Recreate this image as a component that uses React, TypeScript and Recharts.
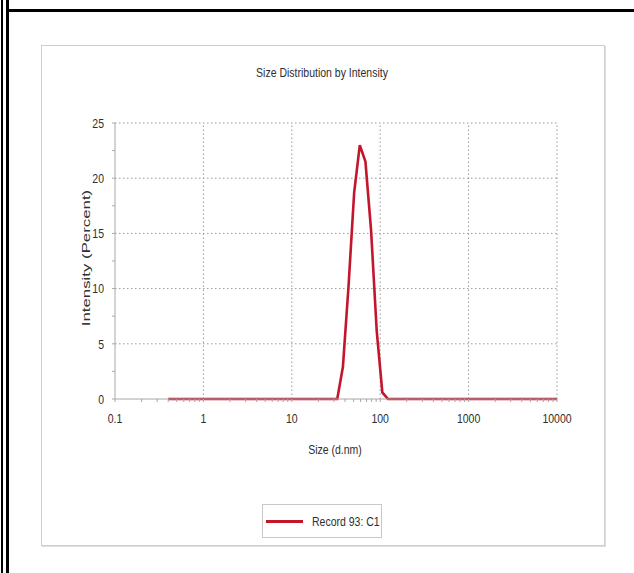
import React from "react";
import { LineChart, Line, XAxis, YAxis, ReferenceLine } from "recharts";

// size bins (d.nm) and intensity (%)
const sizes = [0.4, 32.67, 37.84, 43.82, 50.75, 58.77, 68.06, 78.82, 91.28, 105.7, 122.4, 10000];
const intensity = [0, 0, 2.9, 10.2, 18.7, 23.0, 21.5, 15.3, 6.2, 0.6, 0, 0];

const xMajor = [0.1, 1, 10, 100, 1000, 10000];
const xMinorSteps = [2, 3, 4, 5, 6, 7, 8, 9];
const yMajor = [0, 5, 10, 15, 20, 25];
const yMinor = [2.5, 7.5, 12.5, 17.5, 22.5];

const title = "Size Distribution by Intensity";
const xTitle = "Size (d.nm)";
const yTitle = "Intensity (Percent)";
const seriesName = "Record 93: C1";

const RED = "#c3162d";
const GRID = "#9a9a9a";
const AXIS = "#a8a8a8";
const TXT = "#2e2e2e";
const FONT = "'Liberation Sans', Arial, sans-serif";
const STRETCH = 1.3; // source image is a bit stretched vertically

const rows = sizes.map((s, i) => ({ size: s, value: intensity[i] }));

const xTicks = [
  ...xMajor,
  ...xMajor.slice(0, -1).flatMap((d) => xMinorSteps.map((m) => Number((d * m).toPrecision(3)))),
].sort((a, b) => a - b);
const yTicks = [...yMajor, ...yMinor].sort((a, b) => a - b);

const isDecade = (v: number) => Math.abs(Math.log10(v) - Math.round(Math.log10(v))) < 1e-9;

const XTick = ({ x, y, payload }: any) =>
  isDecade(payload.value) ? (
    <text
      transform={`translate(${x},${y}) scale(1,${STRETCH})`}
      textAnchor="middle"
      dy="0.71em"
      fontSize={10.5}
      fill={TXT}
      fontFamily={FONT}
    >
      {String(payload.value)}
    </text>
  ) : null;

const YTick = ({ x, y, payload }: any) =>
  payload.value % 5 === 0 ? (
    <text
      transform={`translate(${x},${y}) scale(1,${STRETCH})`}
      textAnchor="end"
      dy="0.355em"
      fontSize={10.5}
      fill={TXT}
      fontFamily={FONT}
    >
      {String(payload.value)}
    </text>
  ) : null;

const tall: React.CSSProperties = {
  display: "inline-block",
  transform: `scaleY(${STRETCH})`,
};

export default function App() {
  return (
    <div
      style={{
        position: "fixed",
        left: 0,
        top: 0,
        width: 634,
        height: 573,
        background: "#fff",
        fontFamily: FONT,
        overflow: "hidden",
      }}
    >
      {/* page frame */}
      <div style={{ position: "absolute", left: 1, top: 0, width: 2, height: 573, background: "#000" }} />
      <div style={{ position: "absolute", left: 6, top: 0, width: 3, height: 573, background: "#000" }} />
      <div style={{ position: "absolute", left: 6, top: 9, width: 628, height: 3, background: "#000" }} />

      {/* panel */}
      <div
        style={{
          position: "absolute",
          left: 41,
          top: 45,
          width: 562,
          height: 499,
          border: "1px solid #cfcfcf",
          boxShadow: "1px 1px 0 #dedede",
        }}
      />

      <div
        style={{
          position: "absolute",
          left: 0,
          width: 634,
          top: 66,
          textAlign: "center",
          fontSize: 10.5,
          color: TXT,
          paddingLeft: 10,
          boxSizing: "border-box",
        }}
      >
        <span style={tall}>{title}</span>
      </div>

      <div style={{ position: "absolute", left: 0, top: 0 }}>
        <LineChart
          width={634}
          height={573}
          data={rows}
          margin={{ top: 123, right: 77, bottom: 144, left: 85 }}
        >
          {yMajor.slice(1).map((v) => (
            <ReferenceLine key={"h" + v} y={v} stroke={GRID} strokeDasharray="1.5 2.5" />
          ))}
          {xMajor.slice(1).map((v) => (
            <ReferenceLine key={"v" + v} x={v} stroke={GRID} strokeDasharray="1.5 2.5" />
          ))}
          <XAxis
            dataKey="size"
            type="number"
            scale="log"
            domain={[0.1, 10000]}
            ticks={xTicks}
            interval={0}
            allowDataOverflow
            height={30}
            stroke={AXIS}
            tickSize={3}
            tickMargin={11}
            tick={<XTick />}
          />
          <YAxis
            type="number"
            domain={[0, 25]}
            ticks={yTicks}
            interval={0}
            width={30}
            stroke={AXIS}
            tickSize={3}
            tickMargin={8}
            tick={<YTick />}
          />
          <Line
            type="linear"
            dataKey="value"
            stroke={RED}
            strokeWidth={2.6}
            dot={false}
            isAnimationActive={false}
            name={seriesName}
          />
        </LineChart>
      </div>

      {/* axis titles */}
      <div
        style={{
          position: "absolute",
          left: 285,
          width: 100,
          top: 443,
          textAlign: "center",
          fontSize: 10.5,
          color: TXT,
        }}
      >
        <span style={tall}>{xTitle}</span>
      </div>
      <div
        style={{
          position: "absolute",
          left: 86 - 60,
          top: 258 - 7,
          width: 120,
          height: 14,
          lineHeight: "14px",
          textAlign: "center",
          fontSize: 10.5,
          color: TXT,
          transform: "rotate(-90deg) scale(1.6,1)",
          whiteSpace: "nowrap",
        }}
      >
        {yTitle}
      </div>

      {/* legend */}
      <div
        style={{
          position: "absolute",
          left: 262,
          top: 504,
          width: 120,
          height: 34,
          border: "1px solid #c8c8c8",
          display: "flex",
          alignItems: "center",
          boxSizing: "border-box",
          whiteSpace: "nowrap",
        }}
      >
        <div style={{ marginLeft: 3, width: 37, height: 3, background: RED, flex: "none" }} />
        <span style={{ ...tall, marginLeft: 9, fontSize: 10.5, color: TXT }}>{seriesName}</span>
      </div>
    </div>
  );
}
